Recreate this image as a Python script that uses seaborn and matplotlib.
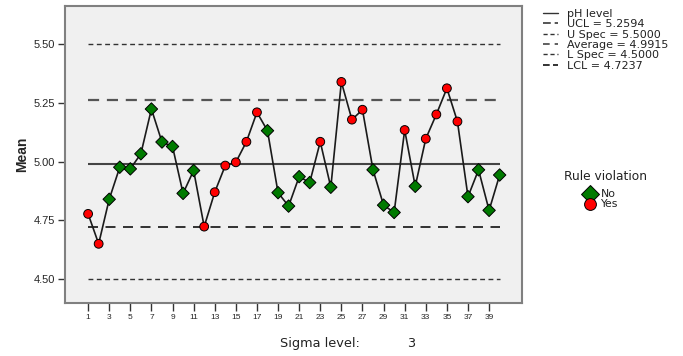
import numpy as np
import pandas as pd
import matplotlib
matplotlib.use("Agg")
import matplotlib.pyplot as plt
from matplotlib.lines import Line2D
import seaborn as sns

# ---- data ----
samples = list(range(1, 41))
means = [4.778, 4.651, 4.840, 4.976, 4.969, 5.033, 5.223, 5.083, 5.064, 4.865,
         4.962, 4.724, 4.870, 4.983, 4.997, 5.084, 5.209, 5.131, 4.868, 4.811,
         4.936, 4.911, 5.084, 4.891, 5.338, 5.178, 5.220, 4.965, 4.815, 4.784,
         5.134, 4.895, 5.097, 5.200, 5.311, 5.170, 4.851, 4.965, 4.793, 4.943]
violation = ["Yes", "Yes", "No", "No", "No", "No", "No", "No", "No", "No",
             "No", "Yes", "Yes", "Yes", "Yes", "Yes", "Yes", "No", "No", "No",
             "No", "No", "Yes", "No", "Yes", "Yes", "Yes", "No", "No", "No",
             "Yes", "No", "Yes", "Yes", "Yes", "Yes", "No", "No", "No", "No"]
ucl = 5.2594
uspec = 5.5000
average = 4.9915
lspec = 4.5000
lcl = 4.7237
yticks = [4.50, 4.75, 5.00, 5.25, 5.50]
xticks = list(range(1, 40, 2))
sigma_level = 3

df = pd.DataFrame({"Sample": samples, "Mean": means, "Rule violation": violation})

sns.set_theme(style="white")
plt.rcParams["font.family"] = ["Liberation Sans", "DejaVu Sans"]

fig = plt.figure(figsize=(6.83, 3.56), dpi=100)
ax = fig.add_axes([0.095, 0.149, 0.669, 0.834])
ax.set_facecolor("#f0f0f0")

x0, x1 = min(samples), max(samples)
# control / spec lines
ax.hlines(uspec, x0, x1, colors="#333333", linewidth=1.0, linestyles=(0, (3.5, 2.5)), zorder=1)
ax.hlines(lspec, x0, x1, colors="#333333", linewidth=1.0, linestyles=(0, (3.5, 2.5)), zorder=1)
ax.hlines(ucl, x0, x1, colors="#555555", linewidth=1.6, linestyles=(0, (5, 3.5)), zorder=1)
ax.hlines(lcl, x0, x1, colors="#111111", linewidth=1.2, linestyles=(0, (6, 4.5)), zorder=1)
ax.hlines(average, x0, x1, colors="#444444", linewidth=1.5, zorder=1)

sns.lineplot(data=df, x="Sample", y="Mean", color="#1a1a1a", linewidth=1.2,
             ax=ax, zorder=2, legend=False)
sns.scatterplot(data=df, x="Sample", y="Mean", hue="Rule violation", style="Rule violation",
                hue_order=["No", "Yes"], style_order=["No", "Yes"],
                palette={"No": "#007a00", "Yes": "#ff0000"},
                markers={"No": "D", "Yes": "o"}, s=40, edgecolor="black",
                linewidth=0.7, ax=ax, zorder=3, legend=False)

ax.set_xlim(-1.2, 42.1)
ax.set_ylim(4.40, 5.66)
ax.set_yticks(yticks)
ax.set_yticklabels([f"{v:.2f}" for v in yticks])
ax.set_xticks(xticks)
ax.set_xticklabels([str(v) for v in xticks])
ax.tick_params(axis="y", labelsize=8, length=5, width=1, color="#333333", left=True, pad=2)
ax.tick_params(axis="x", labelsize=6, length=6, width=1, color="#333333", bottom=True, pad=2)
for s in ax.spines.values():
    s.set_color("#808080")
    s.set_linewidth(1.5)

ax.set_xlabel("")
ax.set_ylabel("Mean", fontsize=10, fontweight="bold", labelpad=3)

# line legend
line_handles = [
    Line2D([], [], color="#333333", lw=1.0),
    Line2D([], [], color="#555555", lw=1.4, ls=(0, (4, 2))),
    Line2D([], [], color="#333333", lw=1.0, ls=(0, (3, 2))),
    Line2D([], [], color="#444444", lw=1.2, ls=(0, (4, 3))),
    Line2D([], [], color="#333333", lw=1.0, ls=(0, (3, 2))),
    Line2D([], [], color="#111111", lw=1.2, ls=(0, (4, 2))),
]
line_labels = ["pH level", f"UCL = {ucl:.4f}", f"U Spec = {uspec:.4f}",
               f"Average = {average:.4f}", f"L Spec = {lspec:.4f}", f"LCL = {lcl:.4f}"]
leg1 = fig.legend(line_handles, line_labels, loc="upper left", bbox_to_anchor=(0.795, 0.975),
                  frameon=False, prop={"family": "DejaVu Sans", "size": 8.0},
                  handlelength=1.35, handletextpad=0.85,
                  labelspacing=0.03, borderaxespad=0, borderpad=0)
for t in leg1.get_texts():
    t.set_color("#222222")

# marker legend (title drawn separately)
fig.text(605 / 683, 1 - 177 / 356, "Rule violation", ha="center", va="center",
         fontsize=8.8, family="DejaVu Sans", color="#222222")
mk_handles = [
    Line2D([], [], marker="D", color="none", markerfacecolor="#007a00",
           markeredgecolor="black", markersize=9, markeredgewidth=0.7),
    Line2D([], [], marker="o", color="none", markerfacecolor="#ff0000",
           markeredgecolor="black", markersize=8.5, markeredgewidth=0.7),
]
leg2 = fig.legend(mk_handles, ["No", "Yes"],
                  loc="upper left", bbox_to_anchor=(0.857, 0.468), frameon=False,
                  prop={"family": "DejaVu Sans", "size": 7.8},
                  handlelength=0.9, handletextpad=0.5,
                  labelspacing=0.0, borderaxespad=0, borderpad=0)
for t in leg2.get_texts():
    t.set_color("#222222")

fig.text(0.41, 0.034, "Sigma level:", fontsize=9.3, family="DejaVu Sans",
         color="#222222", va="center")
fig.text(0.596, 0.034, str(sigma_level), fontsize=9.3, family="DejaVu Sans",
         color="#222222", va="center")

fig.savefig("out.png", dpi=100)
